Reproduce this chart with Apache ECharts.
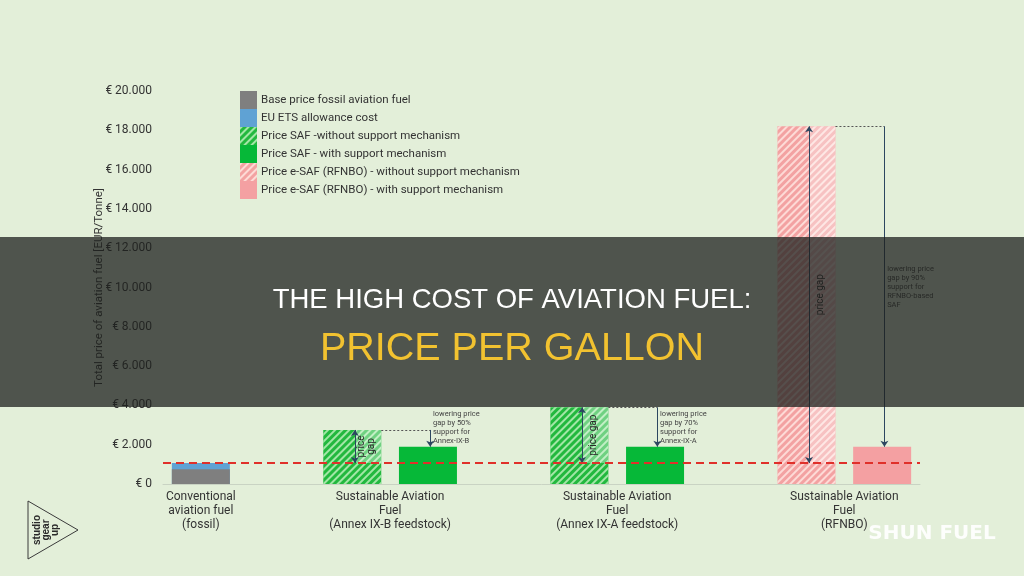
<!DOCTYPE html>
<html>
<head>
<meta charset="utf-8">
<script src="https://cdn.jsdelivr.net/npm/echarts@6/dist/echarts.min.js"></script>
<style>
  html, body { margin: 0; padding: 0; background: #e3efd9; }
  #chart { width: 1024px; height: 576px; }
</style>
</head>
<body>
<div id="chart"></div>
<script>
// category labels sit on slot positions of a value x axis (bars at 0, 2, 3, 5, 6, 8, 9)
const categories = [
  'Conventional\naviation fuel\n(fossil)',
  'Sustainable Aviation\nFuel\n(Annex IX-B feedstock)',
  'Sustainable Aviation\nFuel\n(Annex IX-A feedstock)',
  'Sustainable Aviation\nFuel\n(RFNBO)'
]
const categorySlots = [0, 2.5, 5.5, 8.5]
const seriesNames = [
  'Base price fossil aviation fuel',
  'EU ETS allowance cost',
  'Price SAF -without support mechanism',
  'Price SAF - with support mechanism',
  'Price e-SAF (RFNBO) - without support mechanism',
  'Price e-SAF (RFNBO) - with support mechanism'
]
const basePrice = [[0, 750]]
const etsCost = [[0, 320]]
const safNoSupport = [[2, 2750], [5, 3900]]
const safSupport = [[3, 1900], [6, 1900]]
const esafNoSupport = [[8, 18200]]
const esafSupport = [[9, 1900]]
const fossilTotal = 1070 // red dashed reference line
const gapLabels = ['price\ngap', 'price gap', 'price gap']
const supportNotes = [
  'lowering price\ngap by 50%\nsupport for\nAnnex-IX-B',
  'lowering price\ngap by 70%\nsupport for\nAnnex-IX-A',
  'lowering price\ngap by 90%\nsupport for\nRFNBO-based\nSAF'
]
const noteAnchors = [1900, 1900, 8800]
const yMin = 0
const yMax = 20000
const yInterval = 2000

const noSupport = safNoSupport.concat(esafNoSupport)
const withSupport = safSupport.concat(esafSupport)
// ETS sits on top of the base price: draw it as the cumulative bar behind the grey one
const etsStacked = etsCost.map(function (d, i) { return [d[0], basePrice[i][1] + d[1]] })

function hatch (color) {
  return { symbol: 'rect', color: color, dashArrayX: [1, 0], dashArrayY: [2, 3], rotation: -Math.PI / 4 }
}

function bar (name, data, color, decal, z) {
  return {
    name: name,
    type: 'bar',
    barWidth: 58,
    barGap: '-100%',
    z: z || 2,
    data: data,
    itemStyle: { color: color, decal: decal || null },
    emphasis: { disabled: true }
  }
}

// arrows + dotted connectors between the bars
const arrowLines = []
noSupport.forEach(function (d, i) {
  const x = d[0]
  const top = d[1]
  const sx = withSupport[i][0] + 0.03
  const sTop = withSupport[i][1]
  arrowLines.push([{ coord: [x + 0.035, fossilTotal], symbol: 'arrow' }, { coord: [x + 0.035, top], symbol: 'arrow' }])
  arrowLines.push([{ coord: [x + 0.383, top], symbol: 'none', lineStyle: { type: [2, 2], color: '#555', width: 1.2 } }, { coord: [sx, top], symbol: 'none' }])
  arrowLines.push([{ coord: [sx, top], symbol: 'none' }, { coord: [sx, sTop], symbol: 'arrow' }])
})

function euro (v) {
  return '€ ' + String(v).replace(/\B(?=(\d{3})+(?!\d))/g, '.')
}

const chart = echarts.init(document.getElementById('chart'))
chart.setOption({
  backgroundColor: '#e3efd9',
  animation: false,
  textStyle: { fontFamily: 'Roboto' },
  grid: { left: 163, right: 104, top: 91, bottom: 92 },
  legend: {
    data: seriesNames,
    orient: 'vertical',
    left: 240,
    top: 91,
    padding: 0,
    itemGap: 0,
    itemWidth: 17,
    itemHeight: 18,
    icon: 'rect',
    selectedMode: false,
    textStyle: { fontSize: 11.5, color: '#333', padding: [0, 0, 0, -1] }
  },
  xAxis: {
    type: 'value',
    min: -0.5,
    max: 9.5,
    splitLine: { show: false },
    axisTick: { show: false },
    axisLine: { show: true, lineStyle: { color: '#c9d3c3' } },
    axisLabel: {
      customValues: categorySlots,
      formatter: function (v) { return categories[categorySlots.indexOf(v)] || '' },
      fontSize: 12,
      lineHeight: 14,
      color: '#333',
      margin: 6
    }
  },
  yAxis: {
    type: 'value',
    min: yMin,
    max: yMax,
    interval: yInterval,
    name: 'Total price of aviation fuel [EUR/Tonne]',
    nameLocation: 'middle',
    nameGap: 58,
    nameMoveOverlap: false,
    nameTextStyle: { fontSize: 11.5, color: '#333' },
    splitLine: { show: false },
    axisLine: { show: false },
    axisTick: { show: false },
    axisLabel: { formatter: euro, fontSize: 12, color: '#333', margin: 11 }
  },
  series: [
    bar(seriesNames[0], basePrice, '#7f7f7f', null, 3),
    bar(seriesNames[1], etsStacked, '#5fa2d4'),
    bar(seriesNames[2], safNoSupport, '#22b83e', hatch('rgba(185,238,185,0.85)')),
    bar(seriesNames[3], safSupport, '#06b838'),
    bar(seriesNames[4], esafNoSupport, '#f3a2a2', hatch('rgba(255,232,228,0.8)')),
    bar(seriesNames[5], esafSupport, '#f4a0a2'),
    {
      type: 'custom',
      name: 'gap',
      z: 4,
      silent: true,
      data: noSupport.map(function (d, i) { return [d[0], fossilTotal, d[1], i] }),
      encode: { x: 0, y: [1, 2] },
      renderItem: function (params, api) {
        const top = api.coord([api.value(0), api.value(2)])
        const low = api.coord([api.value(0), api.value(1)])
        return {
          type: 'group',
          children: [
            {
              type: 'rect',
              shape: { x: top[0] + 3, y: top[1], width: 26, height: low[1] - top[1] },
              style: { fill: 'rgba(255,255,255,0.35)' }
            },
            {
              type: 'text',
              x: top[0] + 14,
              y: (top[1] + low[1]) / 2,
              rotation: Math.PI / 2,
              style: {
                text: gapLabels[api.value(3)],
                fill: '#2a2a2a',
                font: '10px Roboto',
                lineHeight: 10,
                align: 'center',
                verticalAlign: 'middle'
              }
            }
          ]
        }
      },
      markLine: {
        silent: true,
        symbolSize: 6,
        label: { show: false },
        lineStyle: { color: '#2c4660', width: 1, type: 'solid' },
        data: arrowLines
      }
    },
    {
      type: 'custom',
      name: 'notes',
      z: 4,
      silent: true,
      data: withSupport.map(function (d, i) { return [d[0], noteAnchors[i], i] }),
      encode: { x: 0, y: 1 },
      renderItem: function (params, api) {
        const p = api.coord([api.value(0), api.value(1)])
        return {
          type: 'text',
          x: p[0] + 5,
          y: p[1] - 1,
          style: {
            text: supportNotes[api.value(2)],
            fill: '#444',
            font: '7.5px Roboto',
            lineHeight: 9,
            align: 'left',
            verticalAlign: 'bottom'
          }
        }
      },
      markLine: {
        silent: true,
        symbol: ['none', 'none'],
        label: { show: false },
        lineStyle: { color: '#e0302a', width: 2, type: [8, 5] },
        data: [{ yAxis: fossilTotal }]
      }
    }
  ],
  graphic: [
    { type: 'rect', z: 100, shape: { x: 0, y: 237, width: 1024, height: 170 }, style: { fill: 'rgba(30,32,29,0.75)' } },
    { type: 'text', z: 101, x: 512, y: 300, style: { text: 'THE HIGH COST OF AVIATION FUEL:', fill: '#ffffff', font: '27.5px "Liberation Sans"', align: 'center', verticalAlign: 'middle' } },
    { type: 'text', z: 101, x: 512, y: 349, style: { text: 'PRICE PER GALLON', fill: '#f2c230', font: '39.5px "Liberation Sans"', align: 'center', verticalAlign: 'middle' } },
    { type: 'polygon', z: 101, shape: { points: [[28, 501], [78, 530], [28, 559]] }, style: { fill: 'none', stroke: '#3a3a3a', lineWidth: 1 } },
    { type: 'text', z: 101, x: 46, y: 530, rotation: Math.PI / 2, style: { text: 'studio\ngear\nup', fill: '#2a2a2a', font: 'bold 10px "Liberation Sans"', lineHeight: 9, align: 'center', verticalAlign: 'middle' } },
    { type: 'text', z: 101, x: 932, y: 534, style: { text: 'SHUN FUEL', fill: 'rgba(255,255,255,0.9)', font: 'bold 20px "DejaVu Sans"', align: 'center', verticalAlign: 'middle' } }
  ]
})
</script>
</body>
</html>
